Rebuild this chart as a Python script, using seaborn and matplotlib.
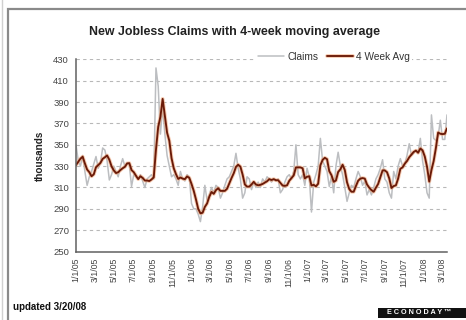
import matplotlib
matplotlib.use("Agg")
import matplotlib.pyplot as plt
import matplotlib.patheffects as pe
from matplotlib.patches import Rectangle
import pandas as pd
import seaborn as sns

# Weekly initial jobless claims (thousands), week ending 1/1/05 through 3/15/08
claims = [
    # 2005
    350, 335, 330, 340, 325, 312, 320, 325, 332, 339, 328, 333, 347, 345, 335, 317,
    322, 330, 325, 320, 330, 337, 330, 333, 331, 311, 322, 320, 318, 322, 316, 310,
    318, 320, 322, 318, 422, 405, 360, 385, 360, 340, 330, 320, 322, 318, 312, 325,
    318, 316, 322, 320, 295,
    # 2006
    290, 290, 285, 278, 292, 312, 298, 303, 310, 305, 312, 310, 300, 305, 312, 318,
    320, 325, 330, 342, 328, 318, 300, 305, 320, 318, 308, 315, 310, 315, 310, 318,
    315, 320, 318, 315, 318, 316, 318, 305, 308, 315, 320, 322, 318, 325, 350, 322,
    318, 322, 312, 328,
    # 2007
    320, 287, 315, 322, 330, 356, 335, 330, 325, 311, 320, 305, 330, 343, 330, 322,
    310, 297, 305, 312, 310, 318, 325, 320, 312, 316, 303, 308, 303, 310, 318, 322,
    328, 336, 318, 315, 305, 300, 325, 318, 330, 337, 330, 332, 340, 351, 340, 342,
    345, 343, 356, 335,
    # 2008
    322, 305, 300, 378, 356, 354, 358, 373, 355, 355, 378,
]

# 4-week moving average of claims (thousands), same weeks
avg4 = [
    # 2005
    331, 334, 337, 338.8, 332.5, 326.8, 324.3, 320.5, 322.3, 329.0, 331.0, 333.0,
    336.8, 338.3, 340.0, 336.0, 329.8, 326.0, 323.5, 324.3, 326.3, 328.0, 329.3,
    332.5, 332.8, 326.3, 324.3, 321.0, 317.8, 320.5, 319.0, 316.5, 316.5, 316.0,
    317.5, 319.5, 345.5, 366.8, 376.3, 393.0, 377.5, 361.3, 353.8, 337.5, 328.0,
    322.5, 318.0, 319.3, 318.3, 317.8, 320.3, 319.0, 313.3,
    # 2006
    306.8, 298.8, 290.0, 285.8, 286.3, 291.8, 295.0, 301.3, 305.8, 304.0, 307.5,
    309.3, 306.8, 306.8, 306.8, 308.8, 313.8, 318.8, 323.3, 329.3, 331.3, 329.5,
    322.0, 312.8, 310.8, 310.8, 312.8, 315.3, 312.8, 312.0, 312.5, 313.3, 314.5,
    315.8, 317.8, 317.0, 317.8, 316.8, 316.8, 314.3, 311.8, 311.5, 312.0, 316.3,
    318.8, 321.3, 328.8, 328.8, 328.8, 328.0, 318.5, 320.0,
    # 2007
    320.5, 311.8, 312.5, 311.0, 313.5, 330.8, 335.8, 337.8, 336.5, 325.3, 321.5,
    315.3, 316.5, 324.5, 327.0, 331.3, 326.3, 314.8, 308.5, 306.0, 306.0, 311.3,
    316.3, 318.3, 318.8, 318.3, 312.8, 309.8, 307.5, 306.0, 309.8, 313.3, 319.5,
    326.0, 326.0, 324.3, 318.5, 309.5, 311.3, 312.0, 318.3, 327.5, 328.8, 332.3,
    334.8, 338.3, 340.8, 343.3, 344.5, 342.5, 346.5, 344.8,
    # 2008
    339.0, 329.5, 315.5, 326.3, 334.8, 347.0, 361.5, 360.3, 360.0, 360.3, 365.3,
]

tick_labels = [
    "1/1/05", "3/1/05", "5/1/05", "7/1/05", "9/1/05", "11/1/05",
    "1/1/06", "3/1/06", "5/1/06", "7/1/06", "9/1/06", "11/1/06",
    "1/1/07", "3/1/07", "5/1/07", "7/1/07", "9/1/07", "11/1/07",
    "1/1/08", "3/1/08",
]
y_ticks = [250, 270, 290, 310, 330, 350, 370, 390, 410, 430]

weeks = pd.date_range("2005-01-01", periods=len(claims), freq="7D")
df = pd.DataFrame({"week": weeks, "Claims": claims, "4 Week Avg": avg4})

sns.set_style("white")
plt.rcParams["font.family"] = ["Liberation Sans", "DejaVu Sans"]

W, H = 466, 320
fig = plt.figure(figsize=(W / 100, H / 100), dpi=100)
fig.patch.set_facecolor("white")

# outer frame
fig.patches.append(Rectangle((8 / W, -0.05), 1.1, 1 - 9 / H + 0.05,
                             transform=fig.transFigure, fill=False,
                             edgecolor="#8a8a8a", linewidth=1.6))
fig.patches.append(Rectangle((1.5 / W, -0.05), 1.1, 1.2,
                             transform=fig.transFigure, fill=False,
                             edgecolor="#d0d0d0", linewidth=1.0))

left, right, top, bottom = 76, 447, 59.4, 251.5
ax = fig.add_axes([left / W, 1 - bottom / H, (right - left) / W, (bottom - top) / H])
ax.set_facecolor("white")

sns.lineplot(data=df, x="week", y="Claims", ax=ax, color="#bcbec1",
             linewidth=1.1, label="Claims")
sns.lineplot(data=df, x="week", y="4 Week Avg", ax=ax, color="#6a1a08",
             linewidth=1.35, label="4 Week Avg",
             path_effects=[pe.Stroke(linewidth=2.7, foreground="#f0a070", alpha=0.55),
                           pe.Normal()])

ax.set_ylim(250, 430)
ax.set_xlim(pd.Timestamp("2005-01-01"), pd.Timestamp("2008-03-15"))
ax.set_yticks(y_ticks)
ax.set_yticklabels([str(v) for v in y_ticks], fontsize=6.8, color="#444444")
tick_dates = pd.to_datetime(tick_labels, format="%m/%d/%y")
ax.set_xticks(tick_dates)
ax.set_xticklabels(tick_labels, rotation=90, fontsize=6.3, color="#444444")

for v in y_ticks[1:]:
    ax.axhline(v, color="#b8b8b8", linewidth=0.8, linestyle=(0, (3, 3)), zorder=0)

for s in ["top", "right"]:
    ax.spines[s].set_visible(False)
for s in ["left", "bottom"]:
    ax.spines[s].set_color("#606060")
    ax.spines[s].set_linewidth(1.1)
ax.tick_params(axis="y", direction="out", length=3, width=0.9, color="#606060", pad=2)
ax.tick_params(axis="x", direction="inout", length=5, width=0.9, color="#606060", pad=2)
ax.set_xlabel("")
ax.set_ylabel("thousands", fontsize=7.2, fontweight="bold", color="#222222", labelpad=6)

leg = ax.legend(loc="center", bbox_to_anchor=((334 - left) / (right - left),
                                              (bottom - 57) / (bottom - top)),
                ncol=2, fontsize=7.3, frameon=True, facecolor="white",
                edgecolor="none", framealpha=1, handlelength=2.6,
                handletextpad=0.3, columnspacing=0.8, borderpad=0.2)
for t in leg.get_texts():
    t.set_color("#333333")

fig.text(234 / W, 1 - 32 / H, "New Jobless Claims with 4-week moving average",
         ha="center", va="center", fontsize=8.9, fontweight="bold", color="#222222")
fig.text(13 / W, 1 - 307 / H, "updated 3/20/08", ha="left", va="center",
         fontsize=7, fontweight="bold", color="#111111")

# ECONODAY badge
fig.patches.append(Rectangle((378 / W, 1 - 317.5 / H), (W - 378) / W, 10 / H,
                             transform=fig.transFigure, facecolor="#111111",
                             edgecolor="none"))
fig.text(419 / W, 1 - 312.5 / H, "E C O N O D A Y \u2122", ha="center", va="center",
         fontsize=5.2, fontweight="bold", color="white")

fig.savefig("out.png", dpi=100, facecolor="white")
